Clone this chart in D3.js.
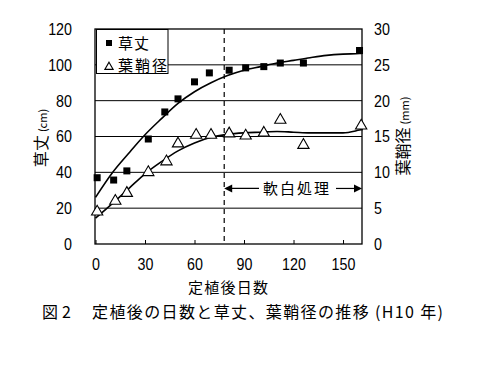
<!DOCTYPE html>
<html><head><meta charset="utf-8">
<script src="https://cdn.jsdelivr.net/npm/d3@7"></script>
<style>
body{margin:0;background:#fff;}
text{fill:#000;}
.num{font-family:"Liberation Sans Narrow","Liberation Sans",Arial,sans-serif;}
.jp{font-family:"Noto Sans CJK JP",sans-serif;}
</style></head><body>
<svg id="c" width="486" height="368"></svg>
<script>
// ---- data ----
const days      = [1, 11, 19, 32, 42, 50, 60, 69, 81, 91, 102, 112, 126, 160];
const height_cm = [37, 35.7, 40.8, 58.6, 73.7, 81, 90.5, 95.5, 97, 98.3, 99, 101, 101, 108];
const triDays   = [1, 12, 19, 32, 43, 50, 61, 70, 81, 91, 102, 112, 126, 161];
const sheath_mm = [4.5, 6, 7.1, 10, 11.5, 14, 15.2, 15.2, 15.4, 15.1, 15.5, 17.3, 13.8, 16.5];
const fitDays   = [0, 10, 20, 30, 40, 50, 60, 70, 80, 90, 100, 110, 120, 130, 140, 150, 160, 162];
const fitHeight = [26, 39.5, 50.5, 61, 70, 78.5, 85, 90, 94, 97, 99, 101, 102.5, 104, 105.3, 106, 106.3, 106.5];
const fitSheath = [3.6, 5.6, 7.7, 9.8, 11.5, 13, 14.1, 14.9, 15.3, 15.5, 15.6, 15.7, 15.6, 15.5, 15.5, 15.5, 15.9, 16.0];
const leftTicks  = [0, 20, 40, 60, 80, 100, 120];
const rightTicks = [0, 5, 10, 15, 20, 25, 30];
const xTicks     = [0, 30, 60, 90, 120, 150];
const markDay = 78;

const svg = d3.select("#c");
const L = 95, R = 362, T = 29, B = 244;
const x = d3.scaleLinear().domain([0, 161.5]).range([L + 0.5, R]);
const yL = d3.scaleLinear().domain([0, 120]).range([B, T]);
const yR = d3.scaleLinear().domain([0, 30]).range([B, T]);

function narrow(sel) {
  sel.attr("class", "num").attr("font-family", null).style("font-size", "17px")
    .each(function () {
      const w = this.getComputedTextLength();
      d3.select(this).attr("textLength", w * 0.84).attr("lengthAdjust", "spacingAndGlyphs");
    });
}

// gridlines
svg.append("g").selectAll("line").data(leftTicks.filter(d => d > 0 && d < 120)).join("line")
  .attr("x1", L).attr("x2", R).attr("y1", d => yL(d)).attr("y2", d => yL(d))
  .attr("stroke", "#000").attr("stroke-width", 1);
// frame
svg.append("rect").attr("x", L).attr("y", T).attr("width", R - L).attr("height", B - T)
  .attr("fill", "none").attr("stroke", "#000").attr("stroke-width", 1.3);

// x axis
const xa = svg.append("g").attr("transform", `translate(0,${B})`)
  .call(d3.axisBottom(x).tickValues(xTicks).tickSizeInner(-4).tickSizeOuter(0).tickPadding(14));
xa.select(".domain").remove();
narrow(xa.selectAll("text"));
// left axis
const la = svg.append("g").attr("transform", `translate(${L},0)`)
  .call(d3.axisLeft(yL).tickValues(leftTicks).tickSize(0).tickPadding(23));
la.select(".domain").remove();
narrow(la.selectAll("text"));
// right axis
const ra = svg.append("g").attr("transform", `translate(${R},0)`)
  .call(d3.axisRight(yR).tickValues(rightTicks).tickSize(0).tickPadding(12));
ra.select(".domain").remove();
narrow(ra.selectAll("text"));

// dashed line
svg.append("line").attr("x1", x(markDay)).attr("x2", x(markDay)).attr("y1", T).attr("y2", B)
  .attr("stroke", "#000").attr("stroke-width", 1.2).attr("stroke-dasharray", "5,4");

// fitted curves
const lineL = d3.line().x((d, i) => x(fitDays[i])).y(d => yL(d)).curve(d3.curveMonotoneX);
const lineR = d3.line().x((d, i) => x(fitDays[i])).y(d => yR(d)).curve(d3.curveMonotoneX);
svg.append("path").attr("d", lineL(fitHeight)).attr("fill", "none").attr("stroke", "#000").attr("stroke-width", 1.6);
svg.append("path").attr("d", lineR(fitSheath)).attr("fill", "none").attr("stroke", "#000").attr("stroke-width", 1.6);

// square markers
svg.append("g").selectAll("rect").data(height_cm).join("rect")
  .attr("x", (d, i) => x(days[i]) - 3.5).attr("y", d => yL(d) - 3.5)
  .attr("width", 7).attr("height", 7).attr("fill", "#000");
// triangle markers
const tri = d3.symbol().type(d3.symbolTriangle).size(55);
svg.append("g").selectAll("path").data(sheath_mm).join("path")
  .attr("d", tri).attr("transform", (d, i) => `translate(${x(triDays[i])},${yR(d)})`)
  .attr("fill", "#fff").attr("stroke", "#000").attr("stroke-width", 1.1);

// annotation arrow
const ay = yL(31);
const x0 = x(markDay), x1 = R;
svg.append("line").attr("x1", x0 + 2).attr("x2", 259).attr("y1", ay).attr("y2", ay).attr("stroke", "#000").attr("stroke-width", 1.2);
svg.append("line").attr("x1", 336).attr("x2", x1 - 2).attr("y1", ay).attr("y2", ay).attr("stroke", "#000").attr("stroke-width", 1.2);
svg.append("path").attr("d", `M${x0},${ay}l8,-4l0,8z`).attr("fill", "#000");
svg.append("path").attr("d", `M${x1},${ay}l-8,-4l0,8z`).attr("fill", "#000");
svg.append("text").attr("class", "jp").attr("x", 263).attr("y", ay + 6)
  .attr("textLength", 66).attr("lengthAdjust", "spacing")
  .style("font-size", "15px").text("軟白処理");

// legend
const lg = svg.append("g");
lg.append("rect").attr("x", 96.5).attr("y", 29.5).attr("width", 71.5).attr("height", 44)
  .attr("fill", "#fff").attr("stroke", "#000").attr("stroke-width", 1);
lg.append("rect").attr("x", 106).attr("y", 40).attr("width", 6).attr("height", 6).attr("fill", "#000");
lg.append("text").attr("class", "jp").attr("x", 118).attr("y", 49)
  .attr("textLength", 31).attr("lengthAdjust", "spacing").style("font-size", "15px").text("草丈");
lg.append("path").attr("d", d3.symbol().type(d3.symbolTriangle).size(30)).attr("transform", "translate(109,67)")
  .attr("fill", "#fff").attr("stroke", "#000").attr("stroke-width", 1.1);
lg.append("text").attr("class", "jp").attr("x", 118).attr("y", 71)
  .attr("textLength", 49).attr("lengthAdjust", "spacing").style("font-size", "15px").text("葉鞘径");

// axis titles
const tl = svg.append("text").attr("class", "jp").attr("transform", `translate(47,138) rotate(-90)`)
  .attr("text-anchor", "middle").style("font-size", "16px");
tl.append("tspan").text("草丈");
tl.append("tspan").style("font-size", "11px").attr("dx", 3).text("(cm)");
const tr = svg.append("text").attr("class", "jp").attr("transform", `translate(409,136) rotate(-90)`)
  .attr("text-anchor", "middle").style("font-size", "16px");
tr.append("tspan").text("葉鞘径");
tr.append("tspan").style("font-size", "11px").attr("dx", 3).text("(mm)");
svg.append("text").attr("class", "jp").attr("x", 188).attr("y", 293)
  .attr("textLength", 80).attr("lengthAdjust", "spacing")
  .style("font-size", "15px").text("定植後日数");
// caption
svg.append("text").attr("class", "jp").attr("x", 42).attr("y", 318)
  .style("font-size", "16px").text("図");
svg.append("text").attr("class", "jp").attr("x", 62).attr("y", 318)
  .style("font-size", "16px").text("2");
svg.append("text").attr("class", "jp").attr("x", 92).attr("y", 318)
  .attr("textLength", 351).attr("lengthAdjust", "spacing")
  .style("font-size", "16px").text("定植後の日数と草丈、葉鞘径の推移 (H10 年)");
</script>
</body></html>
